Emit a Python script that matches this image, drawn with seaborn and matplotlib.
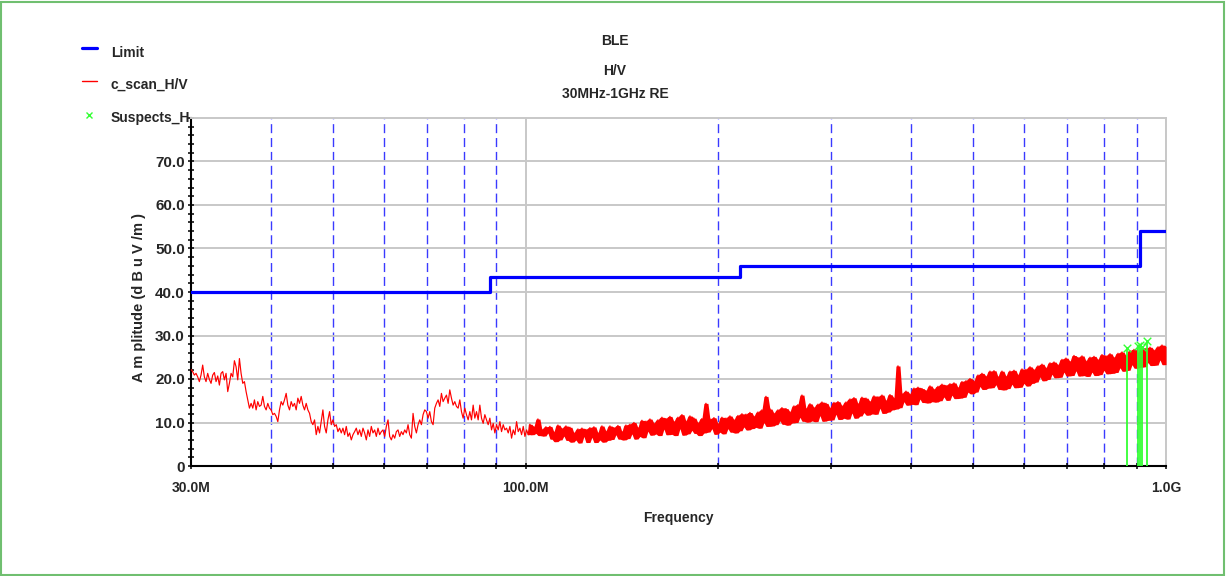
import numpy as np
import pandas as pd
import matplotlib
matplotlib.use('Agg')
import matplotlib.pyplot as plt
from matplotlib.lines import Line2D
from matplotlib.patches import Rectangle
from matplotlib.ticker import FixedLocator, FixedFormatter, MultipleLocator, NullFormatter
import seaborn as sns

# Limit line (MHz, dBuV/m), drawn as steps
limit_freq = [30, 88, 216, 910, 1000]
limit_level = [40.0, 43.5, 46.0, 54.0, 54.0]

# Scan trace 30 MHz .. ~101 MHz
scan_low_range = (30.0, 100.9)
scan_low = [
    22.2, 21.7, 20.9, 21.3, 20.5, 19.4, 20.9, 23.2, 20.5, 19.4,
    21.3, 19.9, 19.0, 20.9, 21.5, 19.4, 20.7, 18.6, 21.3, 21.7,
    19.8, 21.3, 17.1, 19.0, 21.3, 20.5, 24.2, 22.8, 19.8, 24.7,
    21.3, 19.0, 19.4, 17.1, 15.2, 13.3, 14.4, 13.3, 15.2, 12.9,
    14.8, 13.7, 14.0, 16.0, 13.7, 12.9, 14.4, 13.3, 12.9, 11.8,
    12.1, 11.4, 10.2, 12.9, 14.8, 14.0, 15.2, 16.7, 14.0, 12.9,
    14.8, 13.7, 14.4, 12.9, 15.6, 14.4, 16.0, 14.0, 12.9, 14.4,
    12.9, 12.1, 10.2, 9.5, 10.6, 7.2, 9.1, 7.6, 10.2, 12.9,
    9.1, 7.6, 10.6, 12.5, 9.5, 10.6, 9.1, 9.5, 7.9, 8.7,
    7.6, 8.7, 7.2, 9.1, 6.8, 7.6, 6.0, 7.2,
    7.9, 8.7, 7.2, 8.3, 6.8, 8.7, 7.6, 6.0, 8.3, 6.8,
    9.1, 7.6, 8.3, 6.8, 8.7, 7.2, 7.9, 8.3, 6.8, 9.1,
    10.6, 6.8, 6.0, 7.2, 6.4, 7.9, 8.3, 6.8, 7.9, 7.2,
    8.3, 7.6, 9.5, 7.2, 6.4, 12.1, 9.1, 7.6, 9.5, 10.6,
    9.5, 11.8, 12.9, 12.5, 11.0, 12.5, 10.2, 9.5, 13.3, 14.4,
    15.2, 13.7, 16.7, 14.8, 15.6, 16.3, 14.4, 17.5, 15.6, 14.0,
    14.8, 13.7, 13.3, 15.2, 12.5, 11.0, 13.3, 11.8, 10.6, 12.5,
    10.6, 14.0, 11.0, 12.5, 10.6, 14.0, 11.0, 9.8, 11.8, 10.6,
    9.5, 11.0, 8.3, 9.8, 7.6, 9.5, 8.3, 10.2, 7.9, 9.5,
    8.3, 8.7, 7.6, 9.1, 6.4, 8.3, 7.2, 10.2, 7.9, 8.7,
    7.2, 9.1, 6.8, 8.3, 7.2,
]

# Scan trace ~101 MHz .. 1 GHz, dense sweep (peaks / troughs)
scan_high_range = (101.5, 1000.0)
scan_high = [
    9.6, 7.2, 9.0, 7.5, 10.8, 7.0, 8.4, 6.9, 9.0, 7.6,
    9.1, 6.2, 7.8, 5.6, 9.4, 6.0, 8.6, 6.9, 9.2, 5.9,
    8.9, 5.5, 7.6, 6.0, 8.5, 5.3, 8.7, 6.8, 8.4, 5.4,
    8.8, 6.6, 9.0, 5.4, 7.6, 6.0, 9.2, 5.5, 8.0, 5.9,
    9.2, 6.1, 8.8, 7.2, 9.3, 6.2, 7.9, 6.0, 9.4, 6.3,
    9.6, 7.4, 10.0, 6.2, 8.8, 6.8, 10.5, 6.5, 10.3, 8.0,
    10.8, 7.1, 9.8, 7.4, 10.6, 7.0, 11.2, 8.5, 10.9, 7.2,
    11.4, 7.3, 10.2, 7.0, 11.2, 8.6, 11.8, 7.1, 10.3, 7.4,
    11.5, 8.2, 11.0, 7.5, 9.9, 7.0, 10.9, 7.6, 14.4, 7.8,
    10.8, 8.6, 11.1, 7.3, 9.7, 7.8, 11.2, 7.4, 11.0, 8.6,
    11.5, 7.8, 10.6, 7.6, 11.6, 8.1, 12.0, 9.0, 11.9, 8.3,
    12.3, 8.6, 11.4, 8.9, 12.4, 8.7, 12.9, 10.0, 16.0, 9.1,
    13.1, 9.2, 12.1, 9.5, 12.9, 10.4, 13.4, 9.6, 13.2, 9.4,
    12.4, 9.9, 13.8, 10.0, 14.1, 11.2, 16.3, 10.3, 13.2, 10.1,
    14.3, 10.4, 13.4, 10.2, 14.2, 11.6, 14.7, 10.3, 14.4, 10.5,
    13.3, 10.6, 14.6, 11.9, 14.8, 10.7, 13.8, 11.0, 14.7, 10.8,
    15.4, 12.2, 15.7, 11.0, 14.3, 11.5, 15.8, 12.3, 15.6, 11.7,
    14.8, 12.0, 16.1, 11.9, 15.9, 13.3, 16.3, 12.1, 15.0, 12.4,
    16.4, 12.9, 15.6, 13.1, 23.0, 13.4, 16.6, 14.8, 17.2, 14.0,
    16.5, 14.2, 17.9, 14.1, 18.1, 15.4, 17.8, 14.6, 17.3, 14.5,
    18.4, 14.8, 17.6, 14.7, 18.3, 15.0, 18.8, 15.9, 18.5, 15.1,
    18.9, 16.3, 19.1, 15.5, 18.0, 15.6, 19.4, 15.8, 19.6, 17.0,
    20.1, 16.6, 19.5, 17.0, 20.9, 18.3, 21.3, 17.6, 20.6, 17.9,
    21.8, 18.0, 21.9, 18.7, 20.5, 17.6, 21.8, 17.5, 20.6, 17.8,
    21.8, 18.8, 22.0, 18.0, 20.9, 18.1, 22.3, 19.0, 22.2, 18.4,
    22.8, 19.0, 22.1, 19.3, 23.0, 20.5, 23.4, 19.6, 22.5, 19.9,
    23.7, 21.1, 23.9, 20.3, 23.2, 20.4, 24.5, 21.6, 24.8, 20.7,
    24.0, 20.8, 25.4, 21.9, 24.9, 20.7, 25.3, 20.8, 24.1, 20.6,
    25.0, 21.6, 25.2, 20.8, 24.4, 21.0, 25.6, 22.0, 25.3, 21.2,
    25.8, 21.3, 24.9, 21.5, 25.9, 22.6, 26.2, 21.8, 25.3, 22.0,
    26.5, 23.3, 26.8, 22.5, 26.0, 22.7, 27.2, 22.8, 27.0, 23.8,
    27.3, 23.1, 26.6, 23.2, 27.4, 24.4, 27.8, 23.3, 27.5,
]

# Suspect peaks
suspect_freq = [868, 905, 911, 917, 933]
suspect_level = [27.1, 27.6, 27.8, 27.4, 28.7]

# Axis ticks / labels
x_major = [30, 100, 1000]
x_major_labels = ['30.0M', '100.0M', '1.0G']
x_minor = [40, 50, 60, 70, 80, 90, 200, 300, 400, 500, 600, 700, 800, 900]
y_ticks = [0, 10, 20, 30, 40, 50, 60, 70]
y_tick_labels = ['0', '10.0', '20.0', '30.0', '40.0', '50.0', '60.0', '70.0']
title_lines = ['BLE', 'H/V', '30MHz-1GHz RE']
legend_labels = ['Limit', 'c_scan_H/V', 'Suspects_H']

# build the scan tables (sweep points are log spaced between the segment ends)
scan_lo = pd.DataFrame({'freq': np.geomspace(*scan_low_range, len(scan_low)), 'level': scan_low})
scan_hi = pd.DataFrame({'freq': np.geomspace(*scan_high_range, len(scan_high)), 'level': scan_high})
# join point so the trace runs on without a gap
scan_hi = pd.concat([scan_lo.tail(1), scan_hi], ignore_index=True)
# local min / max of neighbouring sweep points, so the dense sweep renders as a solid band
band_top = scan_hi['level'].rolling(3, center=True, min_periods=1).max()
band_bot = scan_hi['level'].rolling(3, center=True, min_periods=1).min()
limit = pd.DataFrame({'freq': limit_freq, 'level': limit_level})
suspects = pd.DataFrame({'freq': suspect_freq, 'level': suspect_level})

sns.set_theme(style='white')
plt.rcParams['font.family'] = ['Liberation Sans', 'DejaVu Sans']
plt.rcParams['font.weight'] = 'bold'

W, H = 1226, 576
fig = plt.figure(figsize=(W / 100, H / 100), dpi=100)
ax = fig.add_axes([191 / W, 110 / H, 975 / W, 348 / H])

blue = '#0000ff'
red = '#ff0000'
green = '#33ff33'
grey = '#c8c8c8'

ax.fill_between(scan_hi['freq'], band_bot, band_top, color=red, lw=0, zorder=3)
sns.lineplot(data=scan_lo, x='freq', y='level', ax=ax, color=red, lw=0.85,
             estimator=None, sort=False, zorder=3)
sns.lineplot(data=scan_hi, x='freq', y='level', ax=ax, color=red, lw=1.0,
             estimator=None, sort=False, zorder=3)
sns.lineplot(data=limit, x='freq', y='level', ax=ax, color=blue, lw=2.3,
             drawstyle='steps-post', estimator=None, sort=False, zorder=4)
ax.vlines(suspects['freq'], 0, suspects['level'], color=green, lw=1.3, zorder=5)
sns.scatterplot(data=suspects, x='freq', y='level', ax=ax, marker='x', color=green,
                s=30, linewidth=1.0, zorder=6)

ax.set_xscale('log')
ax.set_xlim(30, 1000)
ax.set_ylim(0, 80)

ax.xaxis.set_major_locator(FixedLocator(x_major))
ax.xaxis.set_major_formatter(FixedFormatter(x_major_labels))
ax.xaxis.set_minor_locator(FixedLocator(x_minor))
ax.xaxis.set_minor_formatter(NullFormatter())
ax.yaxis.set_major_locator(FixedLocator(y_ticks))
ax.yaxis.set_major_formatter(FixedFormatter(y_tick_labels))
ax.yaxis.set_minor_locator(MultipleLocator(2))

ax.set_axisbelow(True)
ax.grid(which='major', axis='both', color=grey, lw=1.4)
ax.grid(which='minor', axis='x', color='#3a3aff', lw=1.0, ls=(0, (6.5, 3.5)))

for side in ['left', 'bottom']:
    ax.spines[side].set_color('black')
    ax.spines[side].set_linewidth(1.5)
for side in ['top', 'right']:
    ax.spines[side].set_color(grey)
    ax.spines[side].set_linewidth(1.4)

ax.tick_params(which='both', direction='inout', length=5, width=1.1, color='black',
               bottom=True, left=True, top=False, right=False)
ax.tick_params(axis='x', which='major', pad=8, labelsize=10)
ax.tick_params(axis='y', which='major', pad=2, labelsize=11)
for lab in ax.get_xticklabels() + ax.get_yticklabels():
    lab.set_fontweight('bold')

ax.set_xlabel('Frequency', fontsize=10, fontweight='bold')
ax.xaxis.set_label_coords(0.5, (466 - 511) / 348)
ax.set_ylabel('A m plitude (d B u V /m )', fontsize=10.5, fontweight='bold')
ax.yaxis.set_label_coords((146 - 191) / 975, (466 - 298) / 348)

# title lines, centred on the figure
for txt, base in zip(title_lines, [45, 75, 97.5]):
    fig.text(615 / W, 1 - base / H, txt, ha='center', va='baseline',
             fontsize=10, fontweight='bold')

# legend in the top-left corner
fig.add_artist(Line2D([82 / W, 97 / W], [1 - 48.3 / H] * 2, color=blue, lw=2.3))
fig.add_artist(Line2D([82 / W, 97 / W], [1 - 80.7 / H] * 2, color=red, lw=1.0))
fig.add_artist(Line2D([89.3 / W], [1 - 115 / H], color=green, marker='x', ms=5, mew=1.0, lw=0))
for txt, base in zip(legend_labels, [56.7, 89, 121.7]):
    fig.text(110.7 / W, 1 - base / H, txt, ha='left', va='baseline',
             fontsize=10, fontweight='bold')

# green frame round the whole picture
fig.add_artist(Rectangle((1 / W, 1 / H), 1223 / W, 573 / H, transform=fig.transFigure,
                         fill=False, ec='#70bf70', lw=1.5))

fig.savefig('out.png', dpi=100)
